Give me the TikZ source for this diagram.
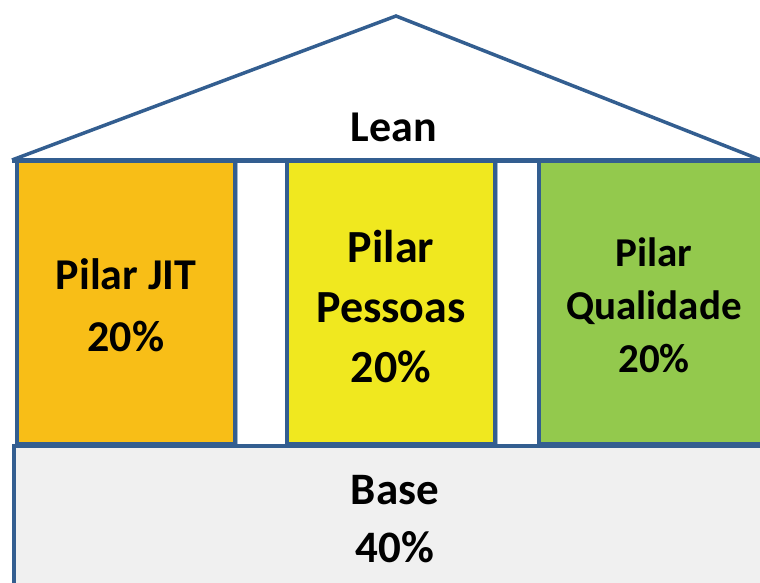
\documentclass[tikz,border=0pt]{standalone}
\usepackage{fontspec}
\setmainfont{Carlito}
\definecolor{frame}{HTML}{335E90}
\definecolor{jit}{HTML}{F8BE17}
\definecolor{pessoas}{HTML}{F0E81F}
\definecolor{qualidade}{HTML}{93C94D}
\definecolor{basefill}{HTML}{F0F0F0}
\begin{document}
\begin{tikzpicture}[x=1pt,y=-1pt,
  pillar/.style={draw=frame,line width=4.5pt},
  gapbox/.style={draw=frame!45,line width=1pt,fill=white},
  label/.style={text=black,align=center,inner sep=0pt,font=\bfseries}]
\useasboundingbox (0,0) rectangle (760,583);
\clip (0,0) rectangle (760,583);
\fill[white] (0,0) rectangle (760,583);
% roof
\draw[frame,line width=3.5pt,line join=miter,fill=white] (12,160) -- (396,16) -- (766,162);
% gaps between the pillars
\draw[gapbox] (237,162) rectangle (285,444);
\draw[gapbox] (497,162) rectangle (537,444);
% pillars
\draw[pillar,fill=jit] (17,160) rectangle (235,444);
\draw[pillar,fill=pessoas] (287,160) rectangle (495,444);
\draw[pillar,fill=qualidade] (539,160) rectangle (790,444);
% beam under the roof
\draw[frame,line width=5pt] (12,160) -- (770,160);
% base
\draw[frame,line width=3.5pt,fill=basefill] (14,446) rectangle (790,620);
% texts
\node[label,font=\bfseries\fontsize{44}{62}\selectfont] (lean) at (394,127) {Lean};
\node[label,font=\bfseries\fontsize{44}{62}\selectfont] (pjit) at (126,305) {Pilar JIT\\20\%};
\node[label,font=\bfseries\fontsize{46}{60}\selectfont] (ppes) at (391,307) {Pilar\\Pessoas\\20\%};
\node[label,font=\bfseries\fontsize{41}{53}\selectfont] (pqual) at (654,305) {Pilar\\Qualidade\\20\%};
\node[label,font=\bfseries\fontsize{45}{58}\selectfont] (base) at (395,519) {Base\\40\%};
\end{tikzpicture}
\end{document}
